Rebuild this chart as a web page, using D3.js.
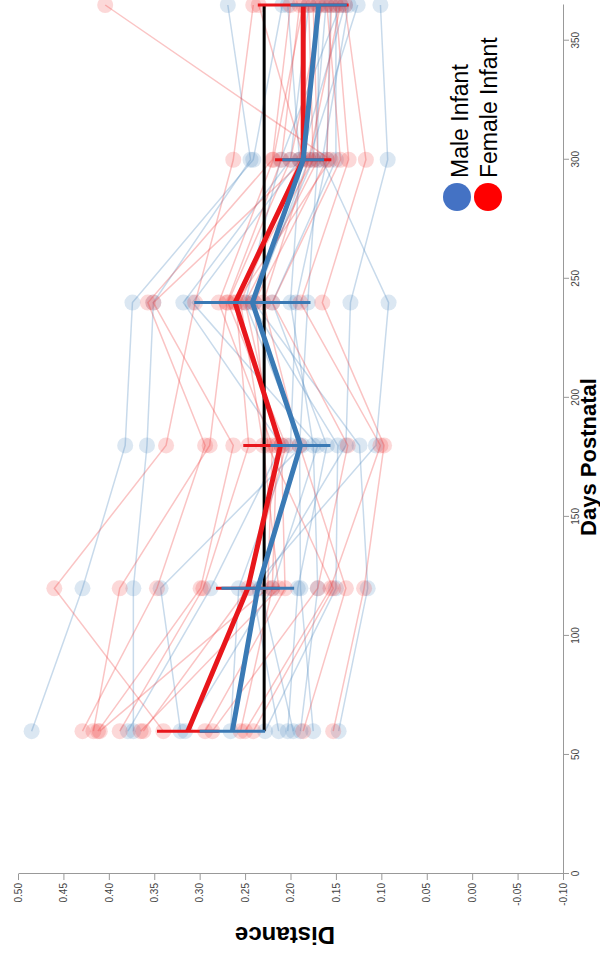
<!DOCTYPE html>
<html>
<head>
<meta charset="utf-8">
<script src="https://cdn.jsdelivr.net/npm/d3@7"></script>
<style>
  body { margin: 0; background: #fff; }
  svg { display: block; }
  .axis text { font-family: "Liberation Sans", Arial, sans-serif; font-size: 10px; fill: #444; }
  .axis path, .axis line { stroke: #999; }
</style>
</head>
<body>
<script>
// sampling days (x) and distance per infant (y)
const days = [60, 120, 180, 240, 300, 365];

const maleSubjects = [
  [0.485, 0.429, 0.382, 0.374, 0.241, 0.209],
  [0.373, 0.373, 0.358, 0.351, 0.244, 0.269],
  [0.379, 0.288, 0.210, 0.318, 0.200, 0.180],
  [0.321, 0.343, 0.187, 0.250, 0.211, 0.145],
  [0.316, 0.220, 0.170, 0.308, 0.190, 0.203],
  [0.266, 0.257, 0.200, 0.194, 0.160, 0.156],
  [0.228, 0.150, 0.148, 0.244, 0.175, 0.161],
  [0.213, 0.242, 0.106, 0.092, 0.165, 0.136],
  [0.203, 0.192, 0.160, 0.220, 0.150, 0.150],
  [0.197, 0.233, 0.139, 0.134, 0.093, 0.101],
  [0.189, 0.170, 0.175, 0.200, 0.189, 0.140],
  [0.175, 0.189, 0.190, 0.181, 0.170, 0.169],
  [0.147, 0.115, 0.124, 0.240, 0.180, 0.126]
];

const femaleSubjects = [
  [0.340, 0.460, 0.337, 0.305, 0.263, 0.241],
  [0.429, 0.347, 0.294, 0.357, 0.220, 0.200],
  [0.417, 0.388, 0.289, 0.270, 0.210, 0.190],
  [0.412, 0.299, 0.263, 0.351, 0.185, 0.235],
  [0.410, 0.225, 0.220, 0.279, 0.219, 0.186],
  [0.388, 0.296, 0.246, 0.260, 0.156, 0.404],
  [0.365, 0.213, 0.230, 0.255, 0.190, 0.170],
  [0.362, 0.247, 0.205, 0.269, 0.200, 0.165],
  [0.294, 0.206, 0.210, 0.263, 0.175, 0.180],
  [0.286, 0.170, 0.137, 0.220, 0.145, 0.160],
  [0.255, 0.220, 0.215, 0.250, 0.170, 0.175],
  [0.250, 0.156, 0.101, 0.189, 0.136, 0.150],
  [0.241, 0.153, 0.225, 0.240, 0.160, 0.155],
  [0.186, 0.139, 0.190, 0.230, 0.180, 0.145],
  [0.153, 0.119, 0.097, 0.165, 0.117, 0.140]
];

const maleMean = [0.264, 0.236, 0.189, 0.242, 0.186, 0.169];
const maleErr = [0.036, 0.040, 0.033, 0.064, 0.023, 0.031];
const femaleMean = [0.313, 0.247, 0.211, 0.261, 0.186, 0.186];
const femaleErr = [0.034, 0.035, 0.041, 0.033, 0.031, 0.050];
const referenceDistance = 0.229;

const dayTicks = [0, 50, 100, 150, 200, 250, 300, 350];
const distanceTicks = [-0.10, -0.05, 0.00, 0.05, 0.10, 0.15, 0.20, 0.25, 0.30, 0.35, 0.40, 0.45, 0.50];
const legendLabels = ['Male Infant', 'Female Infant'];

// the chart is drawn in its own frame (954 wide, 600 tall) and turned a quarter left
const frameW = 954;
const svg = d3.select('body').append('svg').attr('width', 600).attr('height', 954);
const g = svg.append('g').attr('transform', `translate(0,${frameW}) rotate(-90)`);

const xScale = d3.scaleLinear().domain([0, 365]).range([80, 949]);
const yScale = d3.scaleLinear().domain([-0.1, 0.5]).range([563, 18]);

// axes
g.append('g').attr('class', 'axis')
  .attr('transform', 'translate(0,563)')
  .call(d3.axisBottom(xScale).tickValues(dayTicks).tickSizeOuter(0));

g.append('g').attr('class', 'axis')
  .attr('transform', 'translate(80,0)')
  .call(d3.axisLeft(yScale).tickValues(distanceTicks).tickFormat(d => d.toFixed(2)).tickSizeOuter(0));

const lineGen = d3.line().x((d, i) => xScale(days[i])).y(d => yScale(d));

function drawSubjects(data, color) {
  const grp = g.append('g');
  grp.selectAll('path').data(data).enter().append('path')
    .attr('d', d => lineGen(d))
    .style('fill', 'none').style('stroke', color)
    .style('stroke-width', 1.5).style('stroke-opacity', 0.3);
  data.forEach(s => {
    grp.selectAll(null).data(s).enter().append('circle')
      .attr('cx', (d, i) => xScale(days[i])).attr('cy', d => yScale(d))
      .attr('r', 8)
      .style('fill', color).style('fill-opacity', 0.2);
  });
}
drawSubjects(maleSubjects, '#4a86be');
drawSubjects(femaleSubjects, '#ee3b3b');

// reference line
g.append('line')
  .attr('x1', xScale(days[0])).attr('x2', xScale(days[days.length - 1]))
  .attr('y1', yScale(referenceDistance)).attr('y2', yScale(referenceDistance))
  .style('stroke', '#000').style('stroke-width', 3);

function drawMean(mean, err, color) {
  const grp = g.append('g');
  grp.selectAll('line').data(mean).enter().append('line')
    .attr('x1', (d, i) => xScale(days[i])).attr('x2', (d, i) => xScale(days[i]))
    .attr('y1', (d, i) => yScale(d - err[i])).attr('y2', (d, i) => yScale(d + err[i]))
    .style('stroke', color).style('stroke-width', 3);
  grp.append('path')
    .attr('d', lineGen(mean))
    .style('fill', 'none').style('stroke', color).style('stroke-width', 5);
}
drawMean(femaleMean, femaleErr, '#e8161b');
drawMean(maleMean, maleErr, '#3a7ab5');

// axis titles
g.append('text')
  .attr('x', 497).attr('y', 596)
  .attr('text-anchor', 'middle')
  .style('font-family', '"Liberation Sans", Arial, sans-serif')
  .style('font-weight', 'bold').style('font-size', '22px')
  .text('Days Postnatal');

g.append('text')
  .attr('transform', 'translate(27,285) rotate(-90)')
  .attr('text-anchor', 'middle')
  .style('font-family', '"Liberation Sans", Arial, sans-serif')
  .style('font-weight', 'bold').style('font-size', '24px')
  .text('Distance');

// legend
const legendColors = ['#4472c4', '#ff0000'];
const legend = g.append('g').attr('class', 'legend');
legend.selectAll('circle').data(legendLabels).enter().append('circle')
  .attr('cx', 757).attr('cy', (d, i) => 457 + i * 31)
  .attr('r', 14)
  .style('fill', (d, i) => legendColors[i]);
legend.selectAll('text').data(legendLabels).enter().append('text')
  .attr('x', 776).attr('y', (d, i) => 468 + i * 29)
  .style('font-family', '"Liberation Sans", Arial, sans-serif')
  .style('font-size', '23px').style('fill', '#000')
  .text(d => d);
</script>
</body>
</html>
